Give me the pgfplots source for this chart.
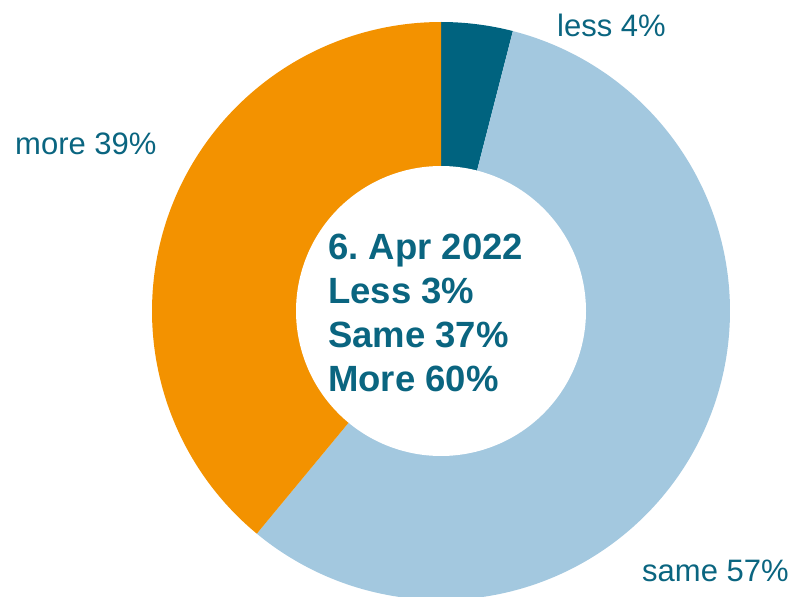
\documentclass[border=0pt]{standalone}
\usepackage{pgfplots}
\pgfplotsset{compat=1.18}
\usepackage{pgfplotstable}
\usepackage{fontspec}
\setmainfont{Liberation Sans}
\frenchspacing
\definecolor{cless}{HTML}{00637F}
\definecolor{csame}{HTML}{A3C8DF}
\definecolor{cmore}{HTML}{F39200}
\definecolor{ctext}{HTML}{0A6580}
\pgfplotstableread{
label value
less 4
same 57
more 39
}\shares
\pgfplotstablegetelem{0}{value}\of\shares \let\vA\pgfplotsretval
\pgfplotstablegetelem{1}{value}\of\shares \let\vB\pgfplotsretval
\pgfplotstablegetelem{2}{value}\of\shares \let\vC\pgfplotsretval
\pgfmathsetmacro\aZ{90}
\pgfmathsetmacro\aA{90-3.6*\vA}
\pgfmathsetmacro\aB{\aA-3.6*\vB}
\pgfmathsetmacro\aC{\aB-3.6*\vC}
\begin{document}
\begin{tikzpicture}
\begin{axis}[
  width=795pt, height=597pt, scale only axis,
  xmin=0, xmax=795, ymin=0, ymax=597,
  hide axis,
  at={(0pt,0pt)}, anchor=south west,
]
\addplot[fill=cless, draw=none, domain=\aA:\aZ, samples=40, variable=\t]
  ({441+289*cos(t)},{286+289*sin(t)}) -- (axis cs:441,286) -- cycle;
\addplot[fill=csame, draw=none, domain=\aB:\aA, samples=200, variable=\t]
  ({441+289*cos(t)},{286+289*sin(t)}) -- (axis cs:441,286) -- cycle;
\addplot[fill=cmore, draw=none, domain=\aC:\aB, samples=150, variable=\t]
  ({441+289*cos(t)},{286+289*sin(t)}) -- (axis cs:441,286) -- cycle;
\addplot[fill=white, draw=none, domain=0:360, samples=200, variable=\t]
  ({441+145*cos(t)},{286+145*sin(t)}) -- cycle;
\begin{scope}[every node/.style={anchor=base west, inner sep=0pt, text=ctext, font=\fontsize{31}{37}\selectfont}]
\node at (axis cs:557,560) {less 4\%};
\node at (axis cs:15,442) {more 39\%};
\node at (axis cs:642,15) {same 57\%};
\end{scope}
\begin{scope}[every node/.style={anchor=base west, inner sep=0pt, text=ctext, font=\fontsize{36.5}{44}\selectfont\bfseries}]
\node at (axis cs:328,337) {6. Apr 2022};
\node at (axis cs:328,293) {Less 3\%};
\node at (axis cs:328,249) {Same 37\%};
\node at (axis cs:328,205) {More 60\%};
\end{scope}
\end{axis}
\useasboundingbox (0pt,0pt) rectangle (795pt,597pt);
\end{tikzpicture}
\end{document}
